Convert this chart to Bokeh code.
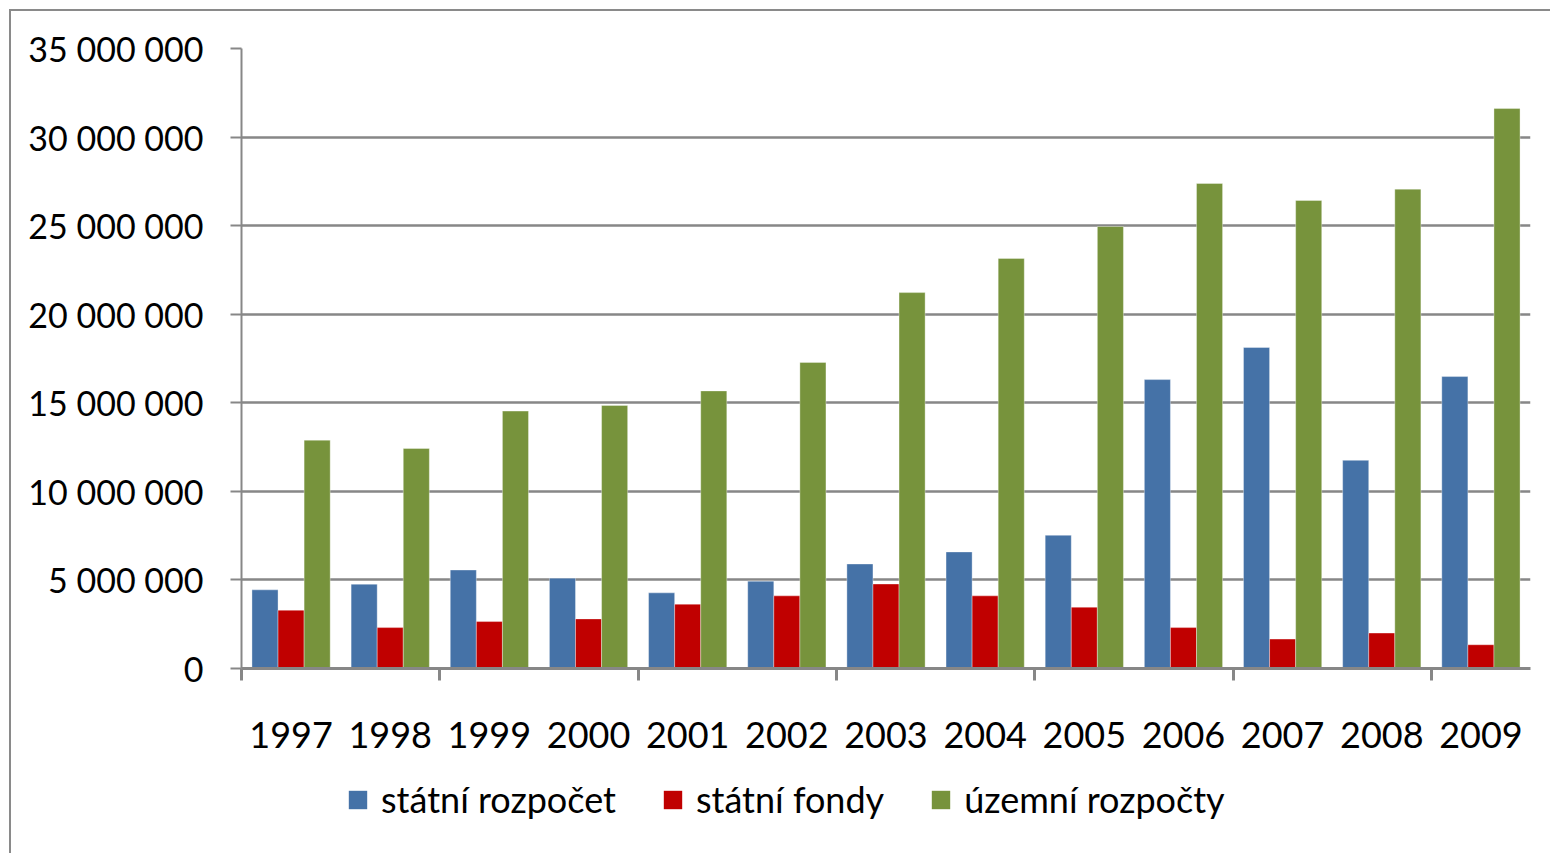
from bokeh.plotting import figure
from bokeh.layouts import column
from bokeh.models import Range1d, FixedTicker, Legend, LegendItem
from bokeh.embed import file_html
from bokeh.resources import INLINE

# ---- data ----
years = [1997, 1998, 1999, 2000, 2001, 2002, 2003, 2004, 2005, 2006, 2007, 2008, 2009]
statni_rozpocet = [4440000, 4760000, 5560000, 5100000, 4270000, 4930000, 5900000,
                   6580000, 7520000, 16310000, 18120000, 11750000, 16480000]
statni_fondy = [3290000, 2310000, 2650000, 2800000, 3630000, 4100000, 4770000,
                4100000, 3460000, 2310000, 1660000, 2000000, 1340000]
uzemni_rozpocty = [12890000, 12420000, 14530000, 14850000, 15670000, 17280000, 21220000,
                   23150000, 24950000, 27380000, 26420000, 27060000, 31610000]
series_names = ["státní rozpočet", "státní fondy", "územní rozpočty"]
series_colors = ["#4572A7", "#C00000", "#77933C"]
y_ticks = [0, 5000000, 10000000, 15000000, 20000000, 25000000, 30000000, 35000000]

FONT = "Lato"
GRID = "#878787"
BORDER = "2px solid #8a8a8a"

p = figure(width=1541, height=759, output_backend="svg", toolbar_location=None,
           x_range=Range1d(years[0] - 0.5, years[-1] + 0.5),
           y_range=Range1d(y_ticks[0], y_ticks[-1]),
           min_border_left=230, min_border_right=22,
           min_border_top=37, min_border_bottom=102)
p.styles = {"margin-left": "9px", "margin-top": "9px",
            "border-left": BORDER, "border-top": BORDER}
p.outline_line_color = None
p.background_fill_color = "white"
p.border_fill_color = "white"

bw = 0.263
series = [statni_rozpocet, statni_fondy, uzemni_rozpocty]
for k, (vals, col) in enumerate(zip(series, series_colors)):
    xs = [y + (k - 1) * bw for y in years]
    p.vbar(x=xs, top=vals, bottom=0, width=bw, fill_color=col,
           line_color="white", line_alpha=0.35, line_width=1)

# y axis
p.yaxis.ticker = FixedTicker(ticks=y_ticks)
p.yaxis.major_label_overrides = {t: f"{t:,}".replace(",", " ") for t in y_ticks}
p.yaxis.major_label_text_font = FONT
p.yaxis.major_label_text_font_size = "34px"
p.yaxis.major_label_text_color = "black"
p.yaxis.major_label_standoff = 27
p.yaxis.axis_line_color = GRID
p.yaxis.axis_line_width = 2
p.yaxis.major_tick_line_color = GRID
p.yaxis.major_tick_line_width = 2
p.yaxis.major_tick_out = 11
p.yaxis.major_tick_in = 0
p.yaxis.minor_tick_line_color = None

# x axis
boundaries = [years[0] - 0.5 + 2 * i for i in range(7)]
p.xaxis.ticker = FixedTicker(ticks=years, minor_ticks=boundaries)
p.xaxis.major_label_overrides = {y: str(y) for y in years}
p.xaxis.major_label_text_font = FONT
p.xaxis.major_label_text_font_size = "36px"
p.xaxis.major_label_text_color = "black"
p.xaxis.major_label_standoff = 41
p.xaxis.axis_line_color = GRID
p.xaxis.axis_line_width = 3
p.xaxis.major_tick_line_color = None
p.xaxis.major_tick_out = 0
p.xaxis.major_tick_in = 0
p.xaxis.minor_tick_line_color = GRID
p.xaxis.minor_tick_line_width = 3
p.xaxis.minor_tick_out = 12
p.xaxis.minor_tick_in = 0

p.xgrid.grid_line_color = None
p.ygrid.grid_line_color = GRID
p.ygrid.grid_line_width = 2.5
p.ygrid.ticker = FixedTicker(ticks=y_ticks)

# legend strip below the chart (its frame is aligned with the chart's frame)
lf = figure(width=1541, height=85, output_backend="svg", toolbar_location=None,
            x_range=Range1d(0, 1), y_range=Range1d(0, 1),
            min_border_left=0, min_border_right=0,
            min_border_top=0, min_border_bottom=0)
lf.styles = {"margin-left": "9px", "border-left": BORDER}
lf.axis.visible = False
lf.grid.visible = False
lf.outline_line_color = None
lf.border_fill_color = "white"
lf.background_fill_color = "white"
items = []
for n, col in zip(series_names, series_colors):
    # zero-height swatch renderer; only its legend glyph is visible
    r = lf.vbar(x=[0.5], top=[0], bottom=[0], width=0.0, fill_color=col, line_color=None)
    items.append(LegendItem(label=n, renderers=[r]))
leg = Legend(items=items, location=(105, 32), orientation="horizontal",
             glyph_width=23, glyph_height=23, label_standoff=12,
             padding=0, margin=0, spacing=45,
             border_line_color=None, background_fill_alpha=0,
             label_text_font=FONT, label_text_font_size="36px",
             label_text_color="black")
lf.add_layout(leg)

layout = column(p, lf, spacing=0)
open("out.html", "w").write(file_html(layout, INLINE))
